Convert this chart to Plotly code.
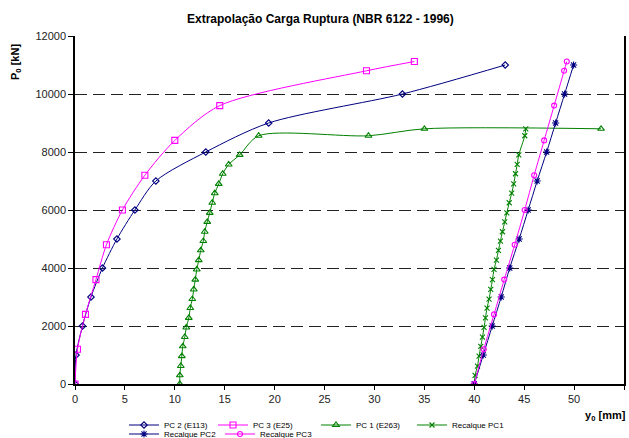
import plotly.graph_objects as go

# ---------------- data ----------------
pc2_x = [0.0, 0.1, 0.75, 1.6, 2.75, 4.2, 6.0, 8.1, 13.1, 19.4, 32.8, 43.1]
pc2_y = [0, 1000, 2000, 3000, 4000, 5000, 6000, 7000, 8000, 9000, 10000, 11000]

pc3_x = [0.0, 0.25, 1.05, 2.1, 3.15, 4.75, 7.0, 10.0, 14.5, 29.2, 34.0]
pc3_y = [0, 1200, 2400, 3600, 4800, 6000, 7200, 8400, 9600, 10800, 11120]

pc1_x = [10.5, 10.5, 10.6, 10.7, 10.8, 11.0, 11.15, 11.4, 11.55, 11.75, 11.9,
         12.05, 12.2, 12.4, 12.6, 12.85, 13.0, 13.25, 13.5, 13.75, 14.0,
         14.4, 14.8, 15.4, 16.5, 18.4, 29.4, 35.0, 52.7]
pc1_y = [0, 300, 620, 960, 1300, 1620, 1950, 2280, 2620, 2930, 3260,
         3600, 3950, 4270, 4610, 4930, 5250, 5590, 5900, 6250, 6580,
         6900, 7250, 7570, 7900, 8560, 8560, 8800, 8800]

rec1_x = [40.0, 40.08, 40.32, 40.48, 40.65, 40.82, 40.98, 41.12, 41.28, 41.48,
          41.65, 41.82, 41.98, 42.22, 42.42, 42.62, 42.82, 43.05, 43.26, 43.5,
          43.75, 43.95, 44.13, 44.3, 44.46, 45.06, 45.16]
rec1_y = [0, 300, 620, 960, 1300, 1620, 1950, 2280, 2620, 2930,
          3260, 3600, 3950, 4270, 4610, 4930, 5250, 5590, 5900, 6250,
          6580, 6900, 7250, 7570, 7900, 8560, 8800]

rec2_x = [40.0, 40.9, 41.8, 42.7, 43.55, 44.5, 45.4, 46.3, 47.25, 48.15, 49.05, 49.95]
rec2_y = [0, 1000, 2000, 3000, 4000, 5000, 6000, 7000, 8000, 9000, 10000, 11000]

rec3_x = [40.0, 40.95, 41.98, 43.0, 44.05, 45.05, 46.0, 47.0, 48.0, 49.0, 49.27]
rec3_y = [0, 1200, 2400, 3600, 4800, 6000, 7200, 8400, 9600, 10800, 11120]

x_ticks = [0, 5, 10, 15, 20, 25, 30, 35, 40, 45, 50, 55]
y_ticks = [0, 2000, 4000, 6000, 8000, 10000, 12000]

title_text = "Extrapolação Carga Ruptura (NBR 6122 - 1996)"
ytitle_text = "P<sub>0</sub> [kN]"
xtitle_text = "y<sub>0</sub> [mm]"

# ---------------- layout helpers ----------------
W, H = 629, 438
L, R, T, B = 75, 5, 36, 54
PW, PH = W - L - R, H - T - B
FONT = "Arial, Liberation Sans, sans-serif"

def px2x(px):
    return (px - L) / PW

def py2y(py):
    return (H - B - py) / PH

NAVY = "#000080"
MAG = "#FF00FF"
GRN = "#008000"

series = [
    ("PC 2 (E113)", pc2_x, pc2_y, NAVY, "diamond-open", 5, "legend"),
    ("PC 3 (E25)", pc3_x, pc3_y, MAG, "square-open", 6, "legend2"),
    ("PC 1 (E263)", pc1_x, pc1_y, GRN, "triangle-up-open", 6, "legend3"),
    ("Recalque PC1", rec1_x, rec1_y, GRN, "x-thin-open", 5, "legend4"),
    ("Recalque PC2", rec2_x, rec2_y, NAVY, "asterisk-open", 6, "legend5"),
    ("Recalque PC3", rec3_x, rec3_y, MAG, "circle-open", 5, "legend6"),
]

fig = go.Figure()
for name, xs, ys, col, sym, sz, lg in series:
    fig.add_trace(go.Scatter(
        x=xs, y=ys, mode="lines+markers", name=name, legend=lg,
        line=dict(color=col, width=1, shape="spline", smoothing=0.8),
        marker=dict(symbol=sym, size=sz, color=col, line=dict(color=col, width=1.1)),
    ))

# legend item positions (line centre px, row centre px)
leg_pos = {
    "legend": (146, 425), "legend2": (235, 425), "legend3": (338, 425),
    "legend4": (434, 425), "legend5": (146, 434), "legend6": (242, 434),
}
leg_layout = {}
for k, (cx, cy) in leg_pos.items():
    leg_layout[k] = dict(
        x=px2x(cx - 22), y=py2y(cy), xanchor="left", yanchor="middle",
        orientation="h", bgcolor="rgba(0,0,0,0)", borderwidth=0,
        font=dict(family=FONT, size=8, color="#000"), itemwidth=30,
    )

fig.update_layout(
    width=W, height=H,
    margin=dict(l=L, r=R, t=T, b=B, pad=0, autoexpand=False),
    paper_bgcolor="white", plot_bgcolor="white",
    font=dict(family=FONT, color="#222"),
    showlegend=True,
    xaxis=dict(
        range=[0, 55], tickvals=x_ticks, showgrid=False, zeroline=False,
        showline=True, linecolor="#000", linewidth=1.5,
        ticks="outside", ticklen=4, tickcolor="#000",
        tickfont=dict(family=FONT, size=11, color="#222"),
    ),
    yaxis=dict(
        range=[0, 12000], tickvals=y_ticks, tickformat="d", zeroline=False,
        showline=True, linecolor="#000", linewidth=1.5, mirror=True,
        ticks="outside", ticklen=5, tickcolor="#000",
        showgrid=True, gridcolor="#222", gridwidth=1, griddash="12px,6px",
        tickfont=dict(family=FONT, size=11, color="#222"),
    ),
    annotations=[
        dict(text="<b>" + title_text + "</b>", xref="paper", yref="paper",
             x=px2x(320), y=py2y(19), xanchor="center", yanchor="middle",
             showarrow=False, font=dict(family=FONT, size=12, color="#000")),
        dict(text="<b>" + ytitle_text + "</b>", xref="paper", yref="paper",
             x=px2x(16), y=py2y(62), xanchor="center", yanchor="middle",
             textangle=-90, showarrow=False,
             font=dict(family=FONT, size=11, color="#000")),
        dict(text="<b>" + xtitle_text + "</b>", xref="paper", yref="paper",
             x=px2x(628), y=py2y(416), xanchor="right", yanchor="middle",
             showarrow=False, font=dict(family=FONT, size=11, color="#000")),
    ],
    **leg_layout,
)

fig.write_html(
    "out.html",
    config={"displayModeBar": False},
    post_script="document.body.style.margin='0px';document.body.style.overflow='hidden';",
)
